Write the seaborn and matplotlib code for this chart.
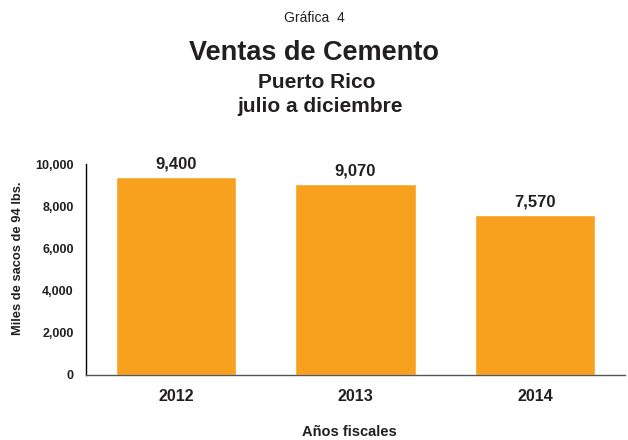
import matplotlib
matplotlib.use("Agg")
import matplotlib.pyplot as plt
import seaborn as sns
import pandas as pd
from matplotlib.ticker import FuncFormatter

years = ["2012", "2013", "2014"]
ventas = [9400, 9070, 7570]
yticks = [0, 2000, 4000, 6000, 8000, 10000]

sns.set_style("white")
plt.rcParams['font.family'] = ['Liberation Sans', 'DejaVu Sans']
txt = "#231F20"

df = pd.DataFrame({"year": years, "ventas": ventas})
fig = plt.figure(figsize=(6.28, 4.4), dpi=100)
ax = fig.add_axes([0.137, 0.148, 0.858, 0.479])
sns.barplot(data=df, x="year", y="ventas", color="#F7A11F", saturation=1, width=0.67, ax=ax)
ax.set_ylim(0, 10000)
ax.set_yticks(yticks)
ax.yaxis.set_major_formatter(FuncFormatter(lambda v, p: f"{int(v):,}"))
for lab in ax.get_yticklabels():
    lab.set_fontweight("bold"); lab.set_fontsize(9); lab.set_color(txt)
for lab in ax.get_xticklabels():
    lab.set_fontweight("bold"); lab.set_fontsize(11.5); lab.set_color(txt)
ax.tick_params(axis="y", length=0, pad=9)
ax.tick_params(axis="x", length=0, pad=10)
for s in ["top", "right"]:
    ax.spines[s].set_visible(False)
ax.spines["left"].set_color("black"); ax.spines["left"].set_linewidth(1)
ax.spines["bottom"].set_color("#555555"); ax.spines["bottom"].set_linewidth(1)
ax.set_xlabel("")
ax.set_ylabel("")
for c in ax.containers:
    ax.bar_label(c, labels=[f"{v:,}" for v in ventas], padding=4, fontsize=12, fontweight="bold", color=txt)

fig.text(0.5, 0.958, "Gráfica  4", ha="center", va="center", fontsize=10, color=txt)
fig.text(0.5, 0.880, "Ventas de Cemento", ha="center", va="center", fontsize=19.5, fontweight="bold", color=txt)
fig.text(0.505, 0.813, "Puerto Rico", ha="center", va="center", fontsize=15, fontweight="bold", color=txt)
fig.text(0.509, 0.758, "julio a diciembre", ha="center", va="center", fontsize=15, fontweight="bold", color=txt)
fig.text(0.028, 0.414, "Miles de sacos de 94 lbs.", rotation=90, ha="center", va="center", fontsize=9.3, fontweight="bold", color=txt)
fig.text(0.557, 0.018, "Años fiscales", ha="center", va="center", fontsize=10.5, fontweight="bold", color=txt)

fig.savefig("out.png", dpi=100)
